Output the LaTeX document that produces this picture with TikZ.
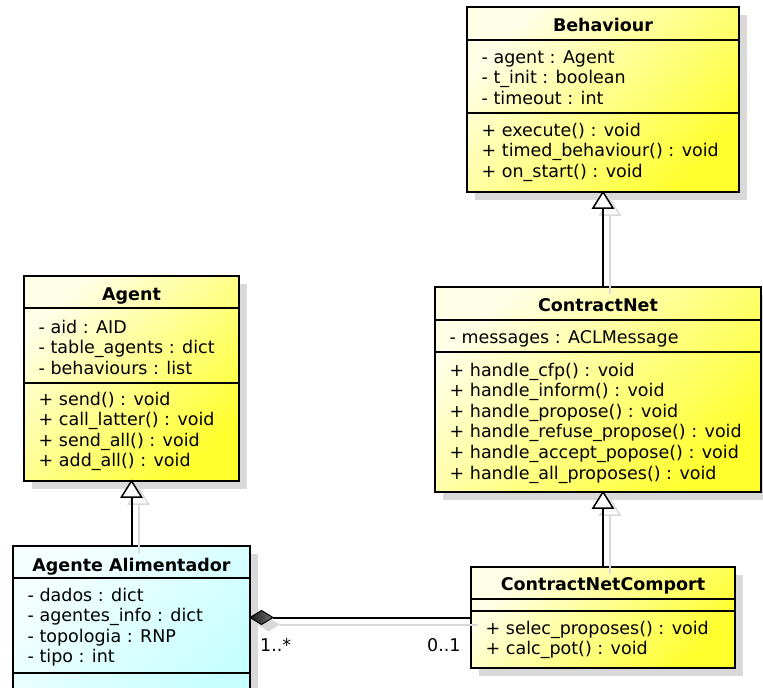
\documentclass[tikz,border=0pt]{standalone}
\usepackage{fontspec}
\setmainfont{DejaVu Sans}
\usetikzlibrary{shadows}

\definecolor{shgray}{HTML}{D9D9D9}
\definecolor{ylight}{HTML}{FFFFE8}
\definecolor{ydeep}{HTML}{FFFF2E}
\definecolor{clight}{HTML}{F6FFFF}
\definecolor{cdeep}{HTML}{C6FFFF}
\newcommand\umlsize{\fontsize{17.5pt}{20.6pt}\selectfont}

\tikzset{
  classbox/.style={draw=black, line width=2.8pt, anchor=north west,
    inner sep=0pt, outer sep=0pt,
    drop shadow={shadow xshift=7.5pt, shadow yshift=-7.5pt, fill=shgray, opacity=1}},
  yellowfill/.style={top color=ylight, bottom color=ydeep, shading angle=45},
  cyanfill/.style={top color=clight, bottom color=cdeep, shading angle=45},
  sepline/.style={line width=1.4pt},
  classname/.style={font=\umlsize\bfseries, anchor=base, inner sep=0pt},
  member/.style={font=\umlsize, anchor=base west, inner sep=0pt},
  conn/.style={line width=2pt},
  connshadow/.style={line width=2pt, draw=shgray,
    transform canvas={xshift=7pt, yshift=-7pt}},
  inherit/.style={draw=black, fill=white, line width=1.5pt, line join=miter},
  inheritshadow/.style={draw=shgray, line width=1.5pt, line join=miter,
    transform canvas={xshift=7pt, yshift=-7pt}},
  mult/.style={font=\umlsize, anchor=base west, inner sep=0pt},
}

\begin{document}
\begin{tikzpicture}[x=1pt, y=-1pt]
\useasboundingbox (0,0) rectangle (763,688);

% ---------- class Behaviour ----------
\node[classbox, yellowfill, minimum width=272pt, minimum height=185pt] (beh) at (467,7) {};
\draw[sepline] (467,40) -- (739,40);
\draw[sepline] (467,113) -- (739,113);
\node[classname] (beh-name) at (beh.north |- 0,31) {Behaviour};
\foreach [count=\i] \t in {{- agent : Agent},{- t\_init : boolean},{- timeout : int}}
  \node[member] (beh-a\i) at (481.5,{63.3+20.6*(\i-1)}) {\t};
\foreach [count=\i] \t in {{+ execute() : void},{+ timed\_behaviour() : void},{+ on\_start() : void}}
  \node[member] (beh-m\i) at (481.5,{136+20.6*(\i-1)}) {\t};

% ---------- class Agent ----------
\node[classbox, yellowfill, minimum width=215pt, minimum height=205pt] (agent) at (24,276) {};
\draw[sepline] (24,308) -- (239,308);
\draw[sepline] (24,383) -- (239,383);
\node[classname] (agent-name) at (agent.north |- 0,300) {Agent};
\foreach [count=\i] \t in {{- aid : AID},{- table\_agents : dict},{- behaviours : list}}
  \node[member] (agent-a\i) at (38.5,{333+20.6*(\i-1)}) {\t};
\foreach [count=\i] \t in {{+ send() : void},{+ call\_latter() : void},{+ send\_all() : void},{+ add\_all() : void}}
  \node[member] (agent-m\i) at (38.5,{405+20.6*(\i-1)}) {\t};

% ---------- class ContractNet ----------
\node[classbox, yellowfill, minimum width=326pt, minimum height=205pt] (cn) at (435,287) {};
\draw[sepline] (435,320) -- (761,320);
\draw[sepline] (435,352) -- (761,352);
\node[classname] (cn-name) at (cn.north |- 0,311) {ContractNet};
\node[member] (cn-a1) at (449.5,343) {- messages : ACLMessage};
\foreach [count=\i] \t in {{+ handle\_cfp() : void},{+ handle\_inform() : void},{+ handle\_propose() : void},{+ handle\_refuse\_propose() : void},{+ handle\_accept\_popose() : void},{+ handle\_all\_proposes() : void}}
  \node[member] (cn-m\i) at (449.5,{376+20.6*(\i-1)}) {\t};

% ---------- class Agente Alimentador ----------
\node[classbox, cyanfill, minimum width=237pt, minimum height=160pt] (aa) at (13,546) {};
\draw[sepline] (13,578) -- (250,578);
\draw[sepline] (13,673) -- (250,673);
\node[classname] (aa-name) at (aa.north |- 0,571) {Agente Alimentador};
\foreach [count=\i] \t in {{- dados : dict},{- agentes\_info : dict},{- topologia : RNP},{- tipo : int}}
  \node[member] (aa-a\i) at (27.5,{601+20.6*(\i-1)}) {\t};

% ---------- class ContractNetComport ----------
\node[classbox, yellowfill, minimum width=264pt, minimum height=101pt] (cnc) at (471,567) {};
\draw[sepline] (471,599) -- (735,599);
\draw[sepline] (471,611) -- (735,611);
\node[classname] (cnc-name) at (cnc.north |- 0,590) {ContractNetComport};
\foreach [count=\i] \t in {{+ selec\_proposes() : void},{+ calc\_pot() : void}}
  \node[member] (cnc-m\i) at (485.5,{634+20.6*(\i-1)}) {\t};

% ---------- anchor points of the relations ----------
\coordinate (cntip) at (cnc.north |- cn.south);
\coordinate (dtip) at (cnc.west -| aa.east);

% ---------- shadows of the relations ----------
\draw[connshadow] ([yshift=-16pt]agent.south) -- (aa.north);
\draw[inheritshadow] (agent.south) -- ++(-10,16) -- ++(20,0) -- cycle;
\draw[connshadow] ([yshift=-16pt]beh.south) -- (beh.south |- cn.north);
\draw[inheritshadow] (beh.south) -- ++(-10,16) -- ++(20,0) -- cycle;
\draw[connshadow] ([yshift=-16pt]cntip) -- (cnc.north);
\draw[inheritshadow] (cntip) -- ++(-10,16) -- ++(20,0) -- cycle;
\draw[connshadow] ([xshift=23pt]dtip) -- (cnc.west);
\fill[shgray, transform canvas={xshift=7pt, yshift=-7pt}]
  (dtip) -- ++(11.5,-7) -- ++(11.5,7) -- ++(-11.5,7) -- cycle;

% ---------- generalisations ----------
\draw[conn] (aa.north) -- ([yshift=-16pt]agent.south);
\draw[inherit] (agent.south) -- ++(-10,16) -- ++(20,0) -- cycle;
\draw[conn] (beh.south |- cn.north) -- ([yshift=-16pt]beh.south);
\draw[inherit] (beh.south) -- ++(-10,16) -- ++(20,0) -- cycle;
\draw[conn] (cnc.north) -- ([yshift=-16pt]cntip);
\draw[inherit] (cntip) -- ++(-10,16) -- ++(20,0) -- cycle;

% ---------- composition ----------
\draw[conn] ([xshift=23pt]dtip) -- (cnc.west);
\draw[line width=1pt, left color=black!90, right color=black!55]
  (dtip) -- ++(11.5,-7) -- ++(11.5,7) -- ++(-11.5,7) -- cycle;
\node[mult] (m-aa) at (260,651) {1..*};
\node[mult] (m-cnc) at (427,651) {0..1};
\end{tikzpicture}
\end{document}
